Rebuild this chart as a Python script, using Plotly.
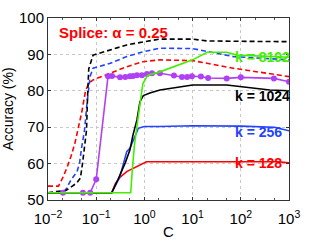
import plotly.graph_objects as go
import math

# ---------------- data ----------------
# dashed curves
black_dash_C = [0.01, 0.024, 0.039, 0.047, 0.052, 0.058, 0.063, 0.066, 0.07, 0.086, 0.19, 0.43, 1.0, 2.1, 10, 20, 100, 1000]
black_dash_A = [52, 52.7, 54.6, 56, 60, 65, 69.2, 78, 86, 89.8, 91.2, 92.6, 93.5, 94.2, 94.2, 93.7, 93.6, 93.5]

blue_dash_C = [0.01, 0.02, 0.023, 0.03, 0.04, 0.045, 0.05, 0.057, 0.065, 0.075, 0.086, 0.19, 0.43, 0.93, 2.1, 10, 70, 1000]
blue_dash_A = [52, 52.2, 52.7, 55.5, 57.8, 60, 64.5, 69, 77, 84, 86.2, 87.5, 89.4, 90.7, 91.7, 91.6, 89.4, 88.5]

red_dash_C = [0.01, 0.0165, 0.02, 0.025, 0.03, 0.036, 0.042, 0.05, 0.06, 0.07, 0.086, 0.19, 0.43, 0.93, 2.1, 10, 70, 1000]
red_dash_A = [53.8, 53.8, 56, 59, 62, 65.5, 69.5, 74, 80, 82, 83, 84.8, 86.6, 88, 88.5, 88.3, 86.2, 83.9]

# solid curves
purple_C = [0.0205, 0.053, 0.075, 0.1, 0.176, 0.213, 0.312, 0.40, 0.50, 0.58, 0.70, 0.89, 1.13, 1.44, 2.1,
            4.1, 6.0, 7.7, 9.7, 14.9, 21, 51, 100, 486, 1000]
purple_A = [52, 52, 52, 55.7, 84, 84.1, 83.7, 83.8, 84, 84.1, 84.3, 84.3, 84.6, 84.8, 84.8,
            84.2, 83.8, 83.8, 84, 83.9, 83.5, 83.4, 83.7, 83.4, 82.5]

green_C = [0.01, 0.52, 0.56, 0.62, 0.73, 0.81, 0.93, 1.18, 2.1, 10, 20, 51, 83, 1000]
green_A = [52, 52, 58, 65, 72, 77, 82, 84.3, 85.2, 88.5, 90.6, 90.6, 89.8, 89.2]

black_C = [0.01, 0.21, 0.28, 0.40, 0.50, 0.58, 0.70, 0.81, 0.95, 1.3, 2.1, 10, 51, 400, 1000]
black_A = [52, 52, 55.5, 60.2, 63.7, 67.9, 72, 77, 78.7, 79.4, 80.2, 81.6, 81.6, 80.2, 80]

blue_C = [0.01, 0.21, 0.31, 0.40, 0.43, 0.50, 0.59, 0.69, 0.75, 0.88, 1.0, 2.1, 10, 100, 500, 1000]
blue_A = [52, 52, 56.4, 61.5, 63.3, 64.2, 66.5, 68.8, 69.7, 70, 70.2, 70.2, 70.4, 70.3, 70, 69]

red_C = [0.01, 0.21, 0.25, 0.31, 0.43, 0.58, 0.73, 0.93, 1.1, 10, 100, 600, 1000]
red_A = [52, 52, 54.5, 56.2, 57.8, 58.7, 59.2, 60, 60.5, 60.5, 60.6, 60.5, 60.2]

x_tickvals = [0.01, 0.1, 1, 10, 100, 1000]
x_ticktext = ["10<sup>\u22122</sup>", "10<sup>\u22121</sup>", "10<sup>0</sup>",
              "10<sup>1</sup>", "10<sup>2</sup>", "10<sup>3</sup>"]
y_tickvals = [50, 60, 70, 80, 90, 100]

labels = ["k = 8192", "k = 1024", "k = 256", "k = 128"]
label_y = [89.3, 78.6, 68.7, 60.2]
label_colors = ["#44ee00", "#000000", "#2244ff", "#ff0000"]

# ---------------- figure ----------------
FONT = "Liberation Sans, Arial, Helvetica, sans-serif"
DASH = "5px,3px"
fig = go.Figure()

def add(xs, ys, color, dash="solid", width=1.6, markers=False):
    fig.add_trace(go.Scatter(
        x=xs, y=ys, mode="lines+markers" if markers else "lines",
        line=dict(color=color, width=width, dash=dash),
        marker=dict(size=6, color=color) if markers else None,
        showlegend=False, hoverinfo="skip"))

add(red_dash_C, red_dash_A, "#ff0000", DASH)
add(blue_dash_C, blue_dash_A, "#2244ff", DASH)
add(black_dash_C, black_dash_A, "#000000", DASH)
add(red_C, red_A, "#ff0000")
add(blue_C, blue_A, "#2244ff")
add(black_C, black_A, "#000000")
add(purple_C, purple_A, "#b040f5", markers=True)
add(green_C, green_A, "#44ee00")

for txt, yv, col in zip(labels, label_y, label_colors):
    fig.add_annotation(x=math.log10(69), y=yv, xref="x", yref="y", text=txt,
                       showarrow=False, xanchor="left", yanchor="middle",
                       font=dict(family=FONT, size=14, color=col, weight="bold"))

fig.add_annotation(x=math.log10(0.0155), y=95.9, xref="x", yref="y",
                   text="Splice: \u03b1 = 0.25", showarrow=False,
                   xanchor="left", yanchor="middle",
                   font=dict(family=FONT, size=15, color="#ff0000", weight="bold"))

axis_common = dict(
    showline=True, linecolor="#333333", linewidth=1, mirror="allticks",
    ticks="inside", ticklen=3, tickcolor="#333333",
    showgrid=True, gridcolor="#c8c8c8", griddash="dot", gridwidth=1,
    zeroline=False, tickfont=dict(family=FONT, size=15, color="#000000"),
    automargin=False,
)

fig.update_xaxes(type="log", range=[-2, 3], tickvals=x_tickvals, ticktext=x_ticktext,
                 ticklabelstandoff=5,
                 title=dict(text="C", font=dict(family=FONT, size=15, color="#000"), standoff=0),
                 minor=dict(ticks="inside", ticklen=2, tickcolor="#555555", showgrid=False),
                 **axis_common)
fig.update_yaxes(range=[50, 100], tickvals=y_tickvals,
                 title=dict(text="Accuracy (%)", font=dict(family=FONT, size=14, color="#000"), standoff=2),
                 **axis_common)

fig.update_layout(width=319, height=240, margin=dict(l=48, r=30, t=18, b=40, autoexpand=False),
                  paper_bgcolor="white", plot_bgcolor="white",
                  font=dict(family=FONT))

fig.write_html("out.html", config={"displayModeBar": False, "staticPlot": True},
               post_script="document.body.style.margin='0px';")
